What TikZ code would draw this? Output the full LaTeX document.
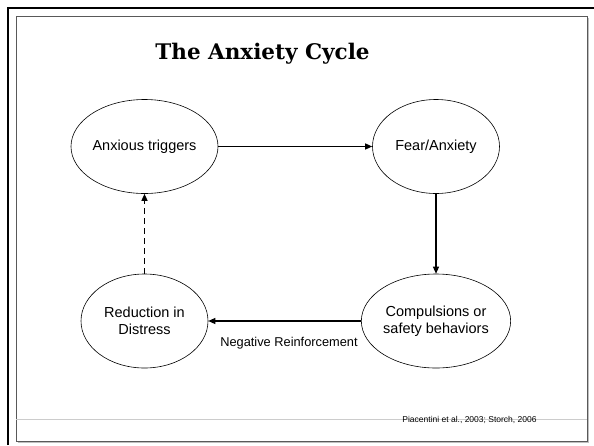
\documentclass[tikz,border=0pt]{standalone}
\usepackage{fontspec}
\setmainfont{Liberation Sans}
\newfontfamily\titlefont{DejaVu Serif}
\usetikzlibrary{shapes.geometric,arrows.meta}

\begin{document}
\begin{tikzpicture}[x=1pt,y=-1pt,
        phase/.style={ellipse,draw,line width=0.6pt,minimum width=127pt,minimum height=94pt,
          inner sep=0pt,align=center,font=\fontsize{14.5}{17.5}\selectfont},
        link/.style={line width=1.2pt,-{Triangle[length=7pt,width=6pt]}}]
        \useasboundingbox(0,0)rectangle(594,445);
        % slide frame
        \draw[line width=2.7pt](8,445)--(8,8)--(594,8);
        \draw[black!25,line width=1pt](17.5,442.5)--(588.5,442.5)--(588.5,17.5);
        \draw[black!65,line width=0.9pt](16,16)rectangle(587,441);
        \draw[black!20,line width=0.7pt](16,419)--(587,419);
        \node[font=\titlefont\bfseries\fontsize{21.5}{26}\selectfont](title)at(262.5,54){The Anxiety Cycle};
        % cycle
        \node[phase](trig)at(144.5,146.5){Anxious triggers};
        \node[phase](fear)at(436,146.5){Fear/Anxiety};
        \node[phase](comp)at(436,321){Compulsions or\\safety behaviors};
        \node[phase](relief)at(144.5,321){Reduction in\\Distress};
        \draw[link](trig)--(fear);
        \draw[link](fear)--(comp);
        \draw[link](comp)--(relief);
        \draw[link,dash pattern=on 6pt off 4pt](relief)--(trig);
        \node[font=\fontsize{12.8}{15}\selectfont](negrf)at(289,343){Negative Reinforcement};
        \node[font=\fontsize{8.5}{10}\selectfont](source)at(469.5,420){Piacentini et al., 2003; Storch, 2006};
\end{tikzpicture}
\end{document}
